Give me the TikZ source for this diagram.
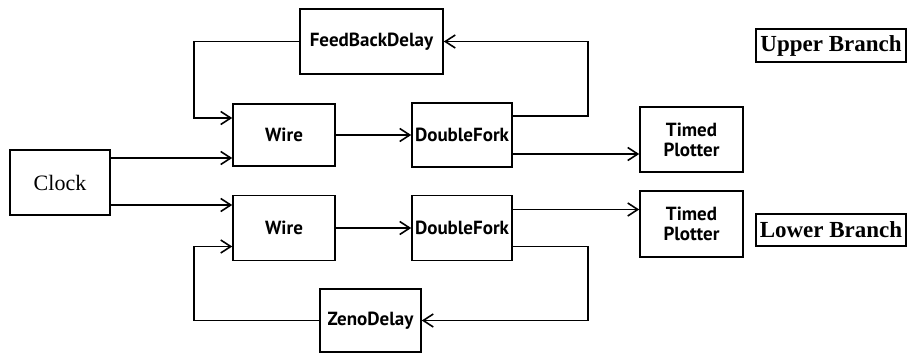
\documentclass[tikz,border=0pt]{standalone}
\usepackage{fontspec}
\setmainfont{Liberation Serif}
\newfontfamily\boxfont{PT Sans}
\usetikzlibrary{arrows.meta}
\begin{document}
\begin{tikzpicture}[x=1pt,y=-1pt,
  blk/.style={draw,line width=1.6pt,inner sep=0pt,font=\boxfont\bfseries\fontsize{19}{20}\selectfont,align=center},
  lbl/.style={draw,line width=1.6pt,inner sep=0pt,font=\bfseries\fontsize{23}{25}\selectfont},
  arr/.style={line width=1.6pt,-{Straight Barb[length=10pt,width=13pt,line width=1.6pt]}}]
\useasboundingbox (0,0) rectangle (908,354);
\node[blk,minimum width=143pt,minimum height=65pt] (fbd) at (371.5,41.5) {FeedBackDelay};
\node[blk,minimum width=102pt,minimum height=62pt] (wire1) at (284,135) {Wire};
\node[blk,minimum width=100pt,minimum height=64pt] (df1) at (462,135) {DoubleFork};
\node[blk,minimum width=103pt,minimum height=65pt] (tp1) at (691.5,139.5) {Timed\\Plotter};
\node[blk,font=\fontsize{22}{24}\selectfont,minimum width=100pt,minimum height=65pt] (clock) at (60,182.5) {Clock};
\node[blk,minimum width=102pt,minimum height=65pt] (wire2) at (284,228) {Wire};
\node[blk,minimum width=100pt,minimum height=65pt] (df2) at (462,228) {DoubleFork};
\node[blk,minimum width=103pt,minimum height=66pt] (tp2) at (691.5,224) {Timed\\Plotter};
\node[blk,minimum width=101pt,minimum height=63pt] (zeno) at (370.5,320.5) {ZenoDelay};
\node[lbl,minimum width=150pt,minimum height=33pt] (ub) at (831,45.5) {Upper Branch};
\node[lbl,minimum width=150pt,minimum height=32pt] (lb) at (831,230) {Lower Branch};
\coordinate (rx) at (588,0);
\coordinate (lx) at (194,0);
\coordinate (w1in) at ([yshift=17pt]wire1.west);
\coordinate (w2in) at ([yshift=-18.5pt]wire2.west);
\coordinate (d1up) at ([yshift=19pt]df1.east);
\coordinate (d2dn) at ([yshift=-18.5pt]df2.east);
\coordinate (c1) at ([yshift=24.5pt]clock.east);
\coordinate (c2) at ([yshift=-22.5pt]clock.east);
\coordinate (d1o) at ([yshift=-19pt]df1.east);
\coordinate (d2o) at ([yshift=18.5pt]df2.east);
\draw[arr] (d1up) -| (rx |- fbd.east) -- (fbd.east);
\draw[arr] (fbd.west) -| (lx |- w1in) -- (w1in);
\draw[arr] (c1) -- (c1 -| wire1.west);
\draw[arr] (c2) -- (c2 -| wire2.west);
\draw[arr] (wire1.east) -- (df1.west);
\draw[arr] (wire2.east) -- (df2.west);
\draw[arr] (d1o) -- (d1o -| tp1.west);
\draw[arr] (d2o) -- (d2o -| tp2.west);
\draw[arr] (d2dn) -| (rx |- zeno.east) -- (zeno.east);
\draw[arr] (zeno.west) -| (lx |- w2in) -- (w2in);
\end{tikzpicture}
\end{document}
